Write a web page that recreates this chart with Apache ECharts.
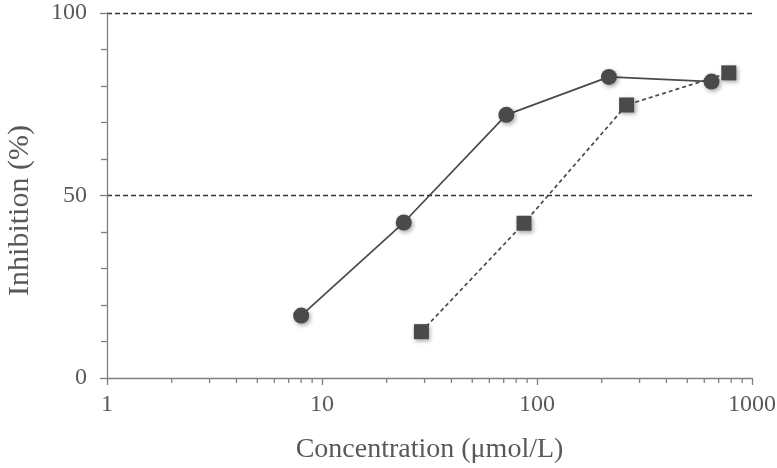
<!DOCTYPE html>
<html>
<head>
<meta charset="utf-8">
<script src="https://cdn.jsdelivr.net/npm/echarts@6/dist/echarts.min.js"></script>
<style>html,body{margin:0;padding:0;background:#fff}#c{width:777px;height:468px}</style>
</head>
<body>
<div id="c"></div>
<script>
const circleX = [8, 24, 72, 216, 648];
const circleY = [17.1, 42.6, 72.1, 82.5, 81.2];
const squareX = [29, 87, 261, 780];
const squareY = [12.7, 42.4, 74.8, 83.6];
const xTickLabels = [1, 10, 100, 1000];
const yTickLabels = [0, 50, 100];
const xMinorTicks = [2,3,4,5,6,7,8,9,20,30,40,50,60,70,80,90,200,300,400,500,600,700,800,900];

const font = '"Liberation Serif", "Times New Roman", serif';
const textColor = '#595959';
const axisColor = '#7f7f7f';
const markColor = '#4a4a4a';
const shadow = {shadowBlur: 4, shadowOffsetX: 1.5, shadowOffsetY: 2, shadowColor: 'rgba(0,0,0,0.35)'};

const chart = echarts.init(document.getElementById('c'), null, {renderer: 'canvas'});
chart.setOption({
  animation: false,
  backgroundColor: '#fff',
  grid: {left: 107, right: 25, top: 13, bottom: 90, containLabel: false, outerBoundsMode: 'none'},
  xAxis: {
    type: 'log', logBase: 10, min: 1, max: 1000,
    name: 'Concentration (\u03bcmol/L)', nameLocation: 'middle', nameGap: 58,
    nameTextStyle: {fontFamily: font, fontSize: 28, color: textColor},
    axisLine: {show: true, lineStyle: {color: axisColor, width: 1.3}},
    axisTick: {show: true, length: 7, lineStyle: {color: axisColor, width: 1.3}},
    minorTick: {show: false},
    axisLabel: {fontFamily: font, fontSize: 24, color: textColor, margin: 15,
      formatter: v => xTickLabels.includes(Math.round(v)) ? String(Math.round(v)) : ''},
    splitLine: {show: false}
  },
  yAxis: {
    type: 'value', min: 0, max: 100, interval: 50,
    name: 'Inhibition (%)', nameLocation: 'middle', nameGap: 72,
    nameTextStyle: {fontFamily: font, fontSize: 30, color: textColor, padding: [0, 30, 0, 0]},
    axisLine: {show: true, lineStyle: {color: axisColor, width: 1.3}},
    axisTick: {show: true, length: 7, lineStyle: {color: axisColor, width: 1.3}},
    minorTick: {show: true, splitNumber: 5, length: 6, lineStyle: {color: axisColor, width: 1.3}},
    axisLabel: {fontFamily: font, fontSize: 24, color: textColor, margin: 20,
      formatter: v => yTickLabels.includes(v) ? String(v) : ''},
    splitLine: {show: true, showMinLine: false, lineStyle: {color: '#333333', type: [5, 3], width: 1.4}}
  },
  series: [
    {
      type: 'custom', silent: true, clip: false, z: 1,
      data: xMinorTicks.map(v => [v, 0]),
      encode: {x: 0, y: 1},
      renderItem: (params, api) => {
        const p = api.coord([api.value(0), 0]);
        return {type: 'line', shape: {x1: p[0], y1: p[1], x2: p[0], y2: p[1] + 5},
          style: {stroke: axisColor, lineWidth: 1.3}};
      }
    },
    {
      type: 'line', z: 3,
      data: squareX.map((x, i) => [x, squareY[i]]),
      symbol: 'rect', symbolSize: 15,
      lineStyle: {color: markColor, width: 1.7, type: [4, 3]},
      itemStyle: Object.assign({color: markColor}, shadow)
    },
    {
      type: 'line', z: 4,
      data: circleX.map((x, i) => [x, circleY[i]]),
      symbol: 'circle', symbolSize: 16,
      lineStyle: {color: markColor, width: 1.7},
      itemStyle: Object.assign({color: markColor}, shadow)
    }
  ]
});
</script>
</body>
</html>
